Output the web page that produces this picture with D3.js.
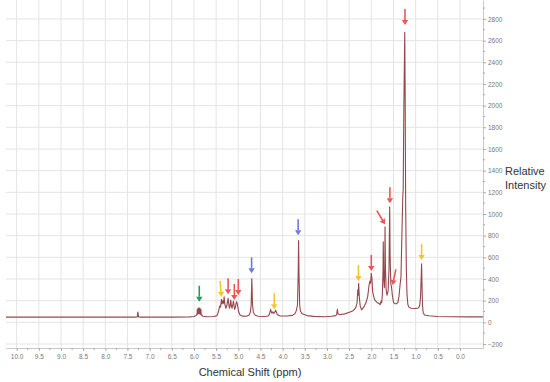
<!DOCTYPE html>
<html>
<head>
<meta charset="utf-8">
<script src="https://cdn.jsdelivr.net/npm/d3@7"></script>
<style>
  body { margin: 0; background: #fff; }
  svg { display: block; font-family: "Liberation Sans", Arial, sans-serif; }
</style>
</head>
<body>
<div id="chart"></div>
<script>
// spectrum trace (ppm, relative intensity)
const shiftPpm = [10.24, 9.0, 8.0, 7.35, 7.28, 7.265, 7.25, 7.2, 6.5, 6.1, 6.0, 5.95, 5.93, 5.925, 5.915, 5.905, 5.895, 5.885, 5.875, 5.865, 5.855, 5.845, 5.835, 5.80, 5.70, 5.55, 5.48, 5.45, 5.42, 5.40, 5.38, 5.365, 5.345, 5.33, 5.32, 5.30, 5.28, 5.26, 5.24, 5.23, 5.215, 5.20, 5.185, 5.17, 5.155, 5.14, 5.125, 5.11, 5.095, 5.08, 5.065, 5.05, 5.04, 5.025, 5.01, 4.99, 4.96, 4.90, 4.82, 4.76, 4.73, 4.71, 4.695, 4.68, 4.66, 4.62, 4.55, 4.40, 4.33, 4.30, 4.28, 4.27, 4.255, 4.24, 4.22, 4.20, 4.18, 4.16, 4.14, 4.12, 4.05, 3.90, 3.78, 3.72, 3.69, 3.665, 3.65, 3.64, 3.63, 3.615, 3.60, 3.56, 3.45, 3.30, 3.05, 2.90, 2.80, 2.78, 2.765, 2.75, 2.72, 2.60, 2.48, 2.40, 2.35, 2.32, 2.305, 2.295, 2.285, 2.27, 2.25, 2.22, 2.17, 2.12, 2.08, 2.05, 2.03, 2.015, 2.00, 1.985, 1.97, 1.94, 1.92, 1.86, 1.82, 1.80, 1.78, 1.765, 1.75, 1.735, 1.73, 1.72, 1.705, 1.695, 1.69, 1.68, 1.665, 1.645, 1.62, 1.60, 1.585, 1.575, 1.56, 1.545, 1.525, 1.50, 1.47, 1.43, 1.40, 1.375, 1.35, 1.33, 1.31, 1.29, 1.28, 1.265, 1.245, 1.235, 1.225, 1.21, 1.195, 1.175, 1.15, 1.10, 1.00, 0.94, 0.91, 0.89, 0.875, 0.865, 0.855, 0.845, 0.83, 0.80, 0.70, 0.50, 0.20, -0.20, -0.52];
const intensity = [48, 48, 48, 48, 50, 95, 50, 48, 48, 50, 54, 62, 80, 120, 75, 130, 80, 135, 80, 130, 75, 120, 70, 56, 52, 54, 62, 95, 150, 140, 212, 170, 200, 175, 236, 160, 130, 150, 200, 221, 170, 130, 150, 205, 150, 130, 160, 197, 150, 120, 140, 175, 190, 175, 140, 95, 68, 57, 56, 65, 90, 160, 405, 170, 90, 65, 56, 54, 58, 72, 105, 120, 95, 85, 98, 82, 90, 112, 95, 70, 58, 58, 64, 80, 110, 160, 420, 755, 430, 160, 105, 80, 62, 55, 52, 56, 62, 75, 120, 78, 70, 78, 95, 110, 135, 180, 300, 250, 360, 230, 150, 115, 140, 180, 240, 344, 380, 360, 452, 400, 283, 230, 206, 180, 172, 162, 195, 180, 260, 500, 744, 420, 320, 500, 882, 500, 300, 250, 290, 500, 1067, 600, 360, 330, 250, 185, 172, 172, 185, 240, 350, 420, 800, 1150, 1230, 2000, 2677, 2050, 1100, 500, 260, 165, 140, 130, 128, 132, 150, 230, 400, 540, 330, 160, 90, 68, 60, 54, 52, 50, 50];

// annotation arrows: tip position (ppm, intensity), group, tilt in degrees
const arrowPpm = [5.88, 5.38, 5.23, 5.09, 5.00, 4.70, 4.19, 3.65, 2.29, 2.00, 1.69, 1.58, 1.52, 1.24, 0.865];
const arrowTip = [190, 236, 258, 206, 252, 452, 120, 803, 381, 474, 905, 1098, 344, 2744, 575];
const arrowGroup = ['green', 'yellow', 'red', 'red', 'red', 'blue', 'yellow', 'blue', 'yellow', 'red', 'red', 'red', 'red', 'red', 'yellow'];
const arrowTilt = [0, 5, 0, 0, 0, 0, 0, 0, 0, 0, 31, 0, -12, 0, 0];

const xTicks = d3.range(0, 10.01, 0.5);
const yTicks = d3.range(-200, 2801, 200);

const colors = { red: '#ee5656', yellow: '#f5c531', green: '#1f9f5c', blue: '#6f78d9' };

const width = 550, height = 382;

const svg = d3.select('#chart')
    .append('svg')
    .attr('width', width)
    .attr('height', height);

const x = d3.scaleLinear().domain([10.24, -0.52]).range([6, 483]);
const y = d3.scaleLinear().domain([-237, 2975]).range([348, 0]);

// grid
svg.append('g')
    .selectAll('line')
    .data(xTicks)
    .join('line')
    .attr('x1', d => x(d)).attr('x2', d => x(d))
    .attr('y1', 0).attr('y2', 348)
    .attr('stroke', '#e4e4e4');

svg.append('g')
    .selectAll('line')
    .data(yTicks)
    .join('line')
    .attr('x1', 6).attr('x2', 483)
    .attr('y1', d => y(d)).attr('y2', d => y(d))
    .attr('stroke', '#e4e4e4');

// axes
const xAxis = svg.append('g')
    .attr('transform', 'translate(0,348)')
    .call(d3.axisBottom(x).tickValues(xTicks).tickFormat(d3.format('.1f')).tickSize(3).tickSizeOuter(0));
xAxis.append('g')
    .selectAll('line')
    .data(d3.range(0.25, 10.01, 0.5))
    .join('line')
    .attr('x1', d => x(d)).attr('x2', d => x(d))
    .attr('y1', 0).attr('y2', 2)
    .attr('stroke', '#aaa');

const yAxis = svg.append('g')
    .attr('transform', 'translate(483,0)')
    .call(d3.axisRight(y).tickValues(yTicks).tickFormat(d3.format('d')).tickSize(3).tickSizeOuter(0));
yAxis.append('g')
    .selectAll('line')
    .data(d3.range(-100, 2901, 200))
    .join('line')
    .attr('x1', 0).attr('x2', 2)
    .attr('y1', d => y(d)).attr('y2', d => y(d))
    .attr('stroke', '#aaa');

svg.selectAll('.domain').attr('stroke', '#c8c8c8');
svg.selectAll('.tick line').attr('stroke', '#aaa');
svg.selectAll('.tick text')
    .attr('fill', '#777')
    .style('font-size', '6.5px');
xAxis.selectAll('.tick text').attr('y', 6);
yAxis.selectAll('.tick text').attr('x', 5);

// spectrum
const line = d3.line()
    .x((d, i) => x(shiftPpm[i]))
    .y(d => y(d));

svg.append('path')
    .datum(intensity)
    .attr('d', line)
    .attr('fill', 'none')
    .attr('stroke', '#93484c')
    .attr('stroke-width', 1.1)
    .attr('stroke-linejoin', 'round');

// arrows
const arrowLen = 16, headLen = 5, headW = 3.2;
const arrows = svg.append('g');
arrowPpm.forEach((p, i) => {
    const tx = x(p), ty = y(arrowTip[i]);
    const a = arrowTilt[i] * Math.PI / 180;
    const ux = Math.sin(a), uy = Math.cos(a);   // direction tail -> tip
    const bx = tx - ux * headLen, by = ty - uy * headLen;
    const c = colors[arrowGroup[i]];
    arrows.append('line')
        .attr('x1', tx - ux * arrowLen).attr('y1', ty - uy * arrowLen)
        .attr('x2', bx).attr('y2', by)
        .attr('stroke', c)
        .attr('stroke-width', 1.6);
    arrows.append('path')
        .attr('d', `M${tx},${ty}L${bx - uy * headW},${by + ux * headW}L${bx + uy * headW},${by - ux * headW}Z`)
        .attr('fill', c);
});

// titles
svg.append('text')
    .attr('x', 250)
    .attr('y', 376)
    .attr('text-anchor', 'middle')
    .attr('fill', '#333')
    .style('font-size', '11px')
    .text('Chemical Shift (ppm)');

svg.append('text')
    .attr('x', 505)
    .attr('y', 175)
    .attr('fill', '#333')
    .style('font-size', '11px')
    .text('Relative');

svg.append('text')
    .attr('x', 505)
    .attr('y', 189)
    .attr('fill', '#333')
    .style('font-size', '11px')
    .text('Intensity');
</script>
</body>
</html>
